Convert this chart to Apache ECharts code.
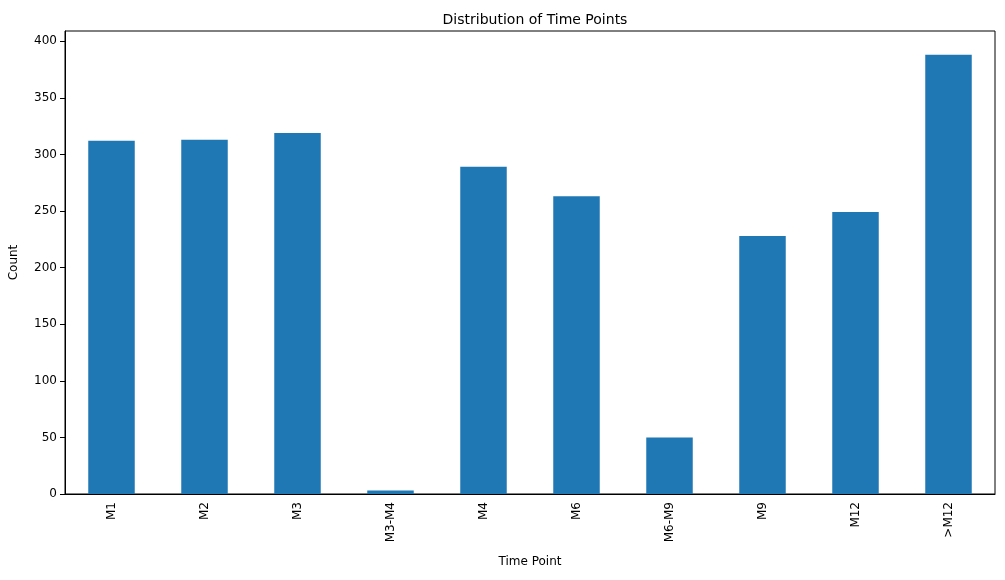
<!DOCTYPE html>
<html><head><meta charset="utf-8">
<script src="https://cdn.jsdelivr.net/npm/echarts@6/dist/echarts.min.js"></script>
<style>html,body{margin:0;padding:0;background:#fff}#c{width:1005px;height:580px}</style>
</head><body><div id="c"></div>
<script>
const categories = ["M1","M2","M3","M3-M4","M4","M6","M6-M9","M9","M12",">M12"];
const counts = [312,313,319,3,289,263,50,228,249,388];
const chart = echarts.init(document.getElementById('c'));
const font = 'DejaVu Sans';
chart.setOption({
  animation:false,
  title:{text:'Distribution of Time Points',left:530,textAlign:'center',top:8,textStyle:{fontFamily:font,fontSize:14,fontWeight:'normal',color:'#000'}},
  grid:{left:65,right:10,top:31,bottom:86},
  xAxis:{type:'category',data:categories,name:'Time Point',nameLocation:'middle',nameGap:62,
    nameTextStyle:{fontFamily:font,fontSize:12,color:'#000'},
    axisLine:{lineStyle:{color:'#000'}},axisTick:{alignWithLabel:true,lineStyle:{color:'#000'}},
    axisLabel:{rotate:90,fontFamily:font,fontSize:12,color:'#000'}},
  yAxis:{type:'value',min:0,max:409,interval:50,name:'Count',nameLocation:'middle',nameGap:45,
    nameTextStyle:{fontFamily:font,fontSize:12,color:'#000'},
    axisLine:{show:true,lineStyle:{color:'#000'}},axisTick:{show:true,lineStyle:{color:'#000'}},
    splitLine:{show:false},axisLabel:{showMaxLabel:false,fontFamily:font,fontSize:12,color:'#000'}},
  series:[{type:'bar',data:counts,barWidth:'50%',itemStyle:{color:'#1f77b4'}}]
});
chart.setOption({graphic:[{type:'rect',shape:{x:65,y:31,width:930,height:463},style:{fill:'none',stroke:'#000',lineWidth:1},silent:true}]});
</script></body></html>
